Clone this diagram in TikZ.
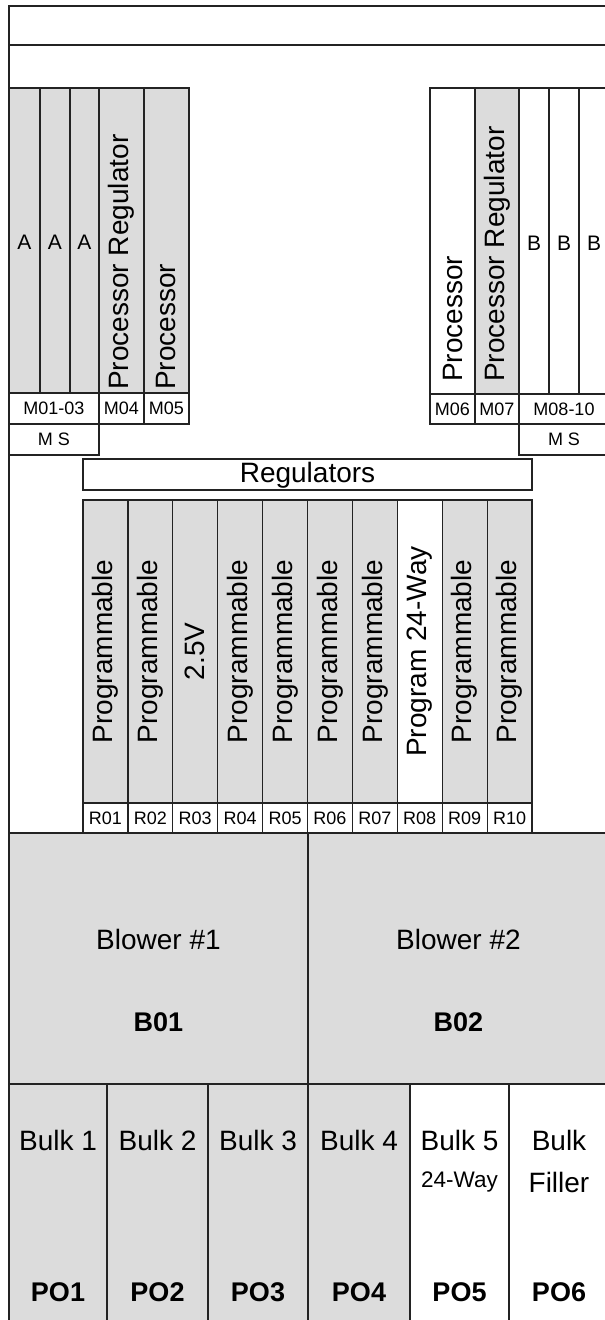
\documentclass[tikz,border=0pt]{standalone}
\usepackage{fontspec}
\setmainfont{Liberation Sans}
\definecolor{cellgray}{RGB}{220,220,220}
\definecolor{edge}{RGB}{35,35,35}
\tikzset{
  frame/.style={draw=edge, line width=1.2pt},
  grayfill/.style={frame, fill=cellgray},
  whitefill/.style={frame, fill=white},
  big/.style={font=\fontsize{28}{30}\selectfont, inner sep=0pt},
  bigbold/.style={font=\fontsize{27}{30}\selectfont\bfseries, inner sep=0pt},
  letter/.style={font=\fontsize{21}{24}\selectfont, inner sep=0pt},
  mid/.style={font=\fontsize{22.5}{25}\selectfont, inner sep=0pt},
  small/.style={font=\fontsize{18}{20}\selectfont, inner sep=0pt},
  vert/.style={big, rotate=90, anchor=west},
}
\begin{document}
\begin{tikzpicture}[x=1pt,y=-1pt]
\useasboundingbox (0,0) rectangle (605,1320);
\begin{scope}
\clip (0,0) rectangle (605,1320);
% outer frame
\draw[frame] (9,1335) -- (9,6) -- (625,6);
\draw[frame] (9,45) -- (625,45);

% left modules
\foreach \a/\b/\n in {9/40/la1, 40/70/la2, 70/99/la3}{
  \draw[grayfill] (\a,88) rectangle (\b,393);
  \node[letter] (\n) at ({(\a+\b)/2},242) {A};
}
\draw[grayfill] (99,88) rectangle (144,393);
\node[vert] (m04t) at (121.5,390) {Processor Regulator};
\draw[grayfill] (144,88) rectangle (189,393);
\node[vert] (m05t) at (166.5,390) {Processor};
\draw[whitefill] (9,393) rectangle (99,424);
\node[small] (m0103) at (54,408.5) {M01-03};
\draw[whitefill] (99,393) rectangle (144,424);
\node[small] (m04) at (121.5,408.5) {M04};
\draw[whitefill] (144,393) rectangle (189,424);
\node[small] (m05) at (166.5,408.5) {M05};
\draw[whitefill] (9,424) rectangle (99,455);
\node[small] (msl) at (54,439.5) {M S};

% right modules
\draw[whitefill] (430,88) rectangle (475,394);
\node[vert] (m06t) at (452.5,382) {Processor};
\draw[grayfill] (475,88) rectangle (519,394);
\node[vert] (m07t) at (497,382) {Processor Regulator};
\foreach \a/\b/\n in {519/549/rb1, 549/579/rb2, 579/609/rb3}{
  \draw[whitefill] (\a,88) rectangle (\b,394);
  \node[letter] (\n) at ({(\a+\b)/2},243) {B};
}
\draw[whitefill] (430,394) rectangle (475,424);
\node[small] (m06) at (452.5,409) {M06};
\draw[whitefill] (475,394) rectangle (519,424);
\node[small] (m07) at (497,409) {M07};
\draw[whitefill] (519,394) rectangle (609,424);
\node[small] (m0810) at (564,409) {M08-10};
\draw[whitefill] (519,424) rectangle (609,455);
\node[small] (msr) at (564,439.5) {M S};

% regulators header
\draw[whitefill] (83,459) rectangle (532,490);
\node[big] (regs) at (307.5,475) {Regulators};

% regulator columns
\foreach \i/\t/\f/\l in {1/Programmable/cellgray/R01, 2/Programmable/cellgray/R02,
  3/2.5V/cellgray/R03, 4/Programmable/cellgray/R04, 5/Programmable/cellgray/R05,
  6/Programmable/cellgray/R06, 7/Programmable/cellgray/R07, 8/Program 24-Way/white/R08,
  9/Programmable/cellgray/R09, 10/Programmable/cellgray/R10}{
  \pgfmathsetmacro\xa{83+44.9*(\i-1)}
  \pgfmathsetmacro\xb{83+44.9*\i}
  \draw[frame, fill=\f] (\xa,500) rectangle (\xb,803);
  \node[big, rotate=90] (reg\i) at ({(\xa+\xb)/2},651.5) {\t};
  \draw[whitefill] (\xa,803) rectangle (\xb,833);
  \node[small] (rl\i) at ({(\xa+\xb)/2},818) {\l};
}

% blowers
\draw[grayfill] (9,833) rectangle (308,1084);
\draw[grayfill] (308,833) rectangle (625,1084);
\node[big] (bl1) at (158.5,939) {Blower \#1};
\node[bigbold] (b01) at (158.5,1022) {B01};
\node[big] (bl2) at (458.5,939) {Blower \#2};
\node[bigbold] (b02) at (458.5,1022) {B02};

% bulks
\foreach \a/\b/\f/\t/\n/\p in {9/107/cellgray/Bulk 1/bk1/PO1, 107/208/cellgray/Bulk 2/bk2/PO2,
  208/308/cellgray/Bulk 3/bk3/PO3, 308/410/cellgray/Bulk 4/bk4/PO4,
  410/509/white/Bulk 5/bk5/PO5, 509/609/white/Bulk/bk6/PO6}{
  \draw[frame, fill=\f] (\a,1084) rectangle (\b,1340);
  \node[big] (\n) at ({(\a+\b)/2},1140) {\t};
  \node[bigbold] (\n po) at ({(\a+\b)/2},1292) {\p};
}
\node[mid] (way24) at (459.5,1182) {24-Way};
\node[big] (filler) at (559,1182) {Filler};
\end{scope}
\end{tikzpicture}
\end{document}
